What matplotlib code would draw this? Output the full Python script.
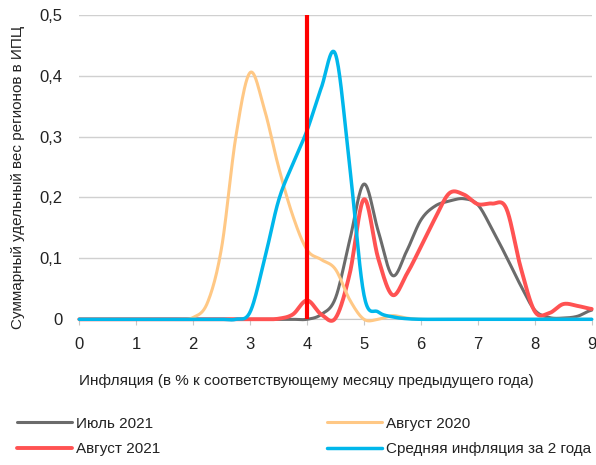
import matplotlib
matplotlib.use("Agg")
import matplotlib.pyplot as plt
import numpy as np

plt.rcParams["font.family"] = ["Liberation Sans", "DejaVu Sans"]

# inflation grid (% y/y), step 0.25 from 0 to 9
inflation = [i * 0.25 for i in range(37)]

july_2021 = [0] * 16 + [
    0.0, 0.008, 0.035, 0.13, 0.222, 0.145, 0.072, 0.112, 0.163, 0.186,
    0.194, 0.198, 0.188, 0.148, 0.103, 0.056, 0.015, 0.003, 0.002, 0.005,
    0.015]
aug_2020 = [0] * 8 + [
    0.003, 0.027, 0.118, 0.30, 0.405, 0.345, 0.25, 0.17, 0.114, 0.098,
    0.082, 0.032, 0.0, 0.0, 0.006, 0.002] + [0] * 13
aug_2021 = [0] * 14 + [
    0.001, 0.008, 0.031, 0.008, 0.002, 0.075, 0.197, 0.1, 0.04, 0.074,
    0.119, 0.166, 0.207, 0.205, 0.189, 0.19, 0.182, 0.086, 0.013, 0.01,
    0.025, 0.022, 0.017]
avg_2y = [0] * 12 + [
    0.012, 0.097, 0.195, 0.255, 0.31, 0.38, 0.435, 0.25, 0.04, 0.012,
    0.004, 0.001] + [0] * 13

target = 4.0

series = [
    ("Июль 2021", july_2021, "#6b6b6b", 2.2),
    ("Август 2021", aug_2021, "#ff5252", 2.8),
    ("Август 2020", aug_2020, "#ffc885", 2.2),
    ("Средняя инфляция за 2 года", avg_2y, "#00b7eb", 2.5),
]


def smooth(x, y, n=20):
    # Catmull-Rom curve through the knots (like a spreadsheet "smoothed line")
    x = np.asarray(x, float)
    y = np.asarray(y, float)
    px = np.concatenate([[2 * x[0] - x[1]], x, [2 * x[-1] - x[-2]]])
    py = np.concatenate([[y[0]], y, [y[-1]]])
    t = np.linspace(0, 1, n, endpoint=False)[:, None]
    xs, ys = [], []
    for p, out in ((px, xs), (py, ys)):
        p0, p1, p2, p3 = p[:-3], p[1:-2], p[2:-1], p[3:]
        c = 0.5 * (2 * p1 + (-p0 + p2) * t + (2 * p0 - 5 * p1 + 4 * p2 - p3) * t ** 2
                   + (-p0 + 3 * p1 - 3 * p2 + p3) * t ** 3)
        out.append(np.concatenate([c.T.ravel(), [p[-2]]]))
    return xs[0], ys[0]


fig = plt.figure(figsize=(5.96, 4.65), dpi=100)
ax = fig.add_axes([79.3 / 596, 145.7 / 465, 512.4 / 596, 304.6 / 465])

lines = []
for name, vals, color, lw in series:
    sx, sy = smooth(inflation, vals)
    ln, = ax.plot(sx, sy, color=color, lw=lw, label=name, clip_on=False,
                  solid_capstyle="round", zorder=3)
    lines.append(ln)

ax.plot([target, target], [0, 0.5], color="#ff0000", lw=3, zorder=4,
        solid_capstyle="butt")

ax.set_xlim(0, 9)
ax.set_ylim(0, 0.5)
ax.set_xticks(range(10))
ax.set_yticks([0, 0.1, 0.2, 0.3, 0.4, 0.5])
ax.set_yticklabels(["0", "0,1", "0,2", "0,3", "0,4", "0,5"])
ax.grid(axis="y", color="#d0d0d0", lw=1)
ax.set_axisbelow(True)
for s in ["top", "right", "left"]:
    ax.spines[s].set_visible(False)
ax.spines["bottom"].set_color("#c8c8c8")
ax.tick_params(axis="y", length=0, labelsize=12, colors="#222222", pad=12)
ax.tick_params(axis="x", length=4, color="#c8c8c8", labelsize=12,
               labelcolor="#222222", pad=9)

ax.set_xlabel("Инфляция (в % к соответствующему месяцу предыдущего года)",
              fontsize=11, color="#222222")
ax.xaxis.set_label_coords(0.443, -0.2026)
ax.xaxis.label.set_va("center")
ax.set_ylabel("Суммарный удельный вес регионов в ИПЦ", fontsize=11,
              color="#222222")
ax.yaxis.set_label_coords(-0.1196, 0.467)
ax.yaxis.label.set_va("center")

common = dict(frameon=False, fontsize=11, handlelength=3.6, handletextpad=0.25,
              borderpad=0, borderaxespad=0, labelspacing=0.75,
              labelcolor="#222222")
fig.legend([lines[0], lines[1]], [series[0][0], series[1][0]],
           loc="center left", bbox_to_anchor=(17 / 596, (465 - 436.5) / 465), **common)
fig.legend([lines[2], lines[3]], [series[2][0], series[3][0]],
           loc="center left", bbox_to_anchor=(327 / 596, (465 - 436.5) / 465), **common)

fig.savefig("out.png", dpi=100)
